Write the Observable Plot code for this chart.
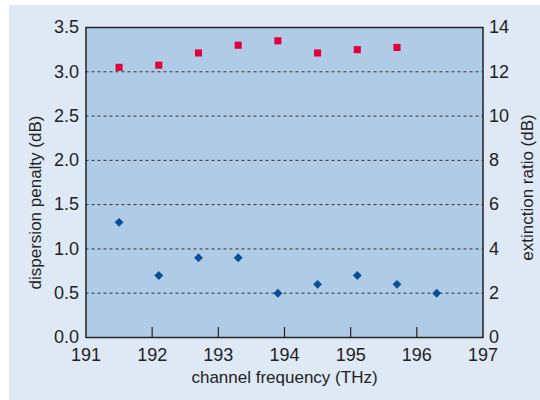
<!DOCTYPE html>
<html>
<head>
<meta charset="utf-8">
<script src="https://cdn.jsdelivr.net/npm/d3@7"></script>
<script src="https://cdn.jsdelivr.net/npm/@observablehq/plot@0.6"></script>
<style>
  html, body { margin: 0; padding: 0; background: #ffffff; }
  #wrap { position: relative; width: 540px; height: 400px; overflow: hidden; }
  #bg { position: absolute; left: 9px; top: 5px; right: 0; bottom: 0; background: #dfe9f5; }
  #chart { position: absolute; left: 0; top: 0; }
</style>
</head>
<body>
<div id="wrap"><div id="bg"></div><div id="chart"></div></div>
<script>
// Extinction ratio (right axis, dB) – red squares
const freqExtinction = [191.5, 192.1, 192.7, 193.3, 193.9, 194.5, 195.1, 195.7];
const extinctionRatio = [12.2, 12.3, 12.85, 13.2, 13.4, 12.85, 13.0, 13.1];

// Dispersion penalty (left axis, dB) – blue diamonds
const freqPenalty = [191.5, 192.1, 192.7, 193.3, 193.9, 194.5, 195.1, 195.7, 196.3];
const dispersionPenalty = [1.3, 0.7, 0.9, 0.9, 0.5, 0.6, 0.7, 0.6, 0.5];

// Ticks
const xTicks = [191, 192, 193, 194, 195, 196, 197];
const xInnerTicks = [192, 193, 194, 195, 196];
const leftTicks = [0, 0.5, 1.0, 1.5, 2.0, 2.5, 3.0, 3.5];
const gridTicks = [0.5, 1.0, 1.5, 2.0, 2.5, 3.0];
const rightTicks = [0, 2, 4, 6, 8, 10, 12, 14];
const ratio = 4; // right axis = left axis * 4

const xLabel = "channel frequency (THz)";
const yLeftLabel = "dispersion penalty (dB)";
const yRightLabel = "extinction ratio (dB)";

const extData = freqExtinction.map((f, i) => ({f, v: extinctionRatio[i]}));
const penData = freqPenalty.map((f, i) => ({f, v: dispersionPenalty[i]}));

const font = "'Liberation Sans', Arial, sans-serif";

const chart = Plot.plot({
  width: 540,
  height: 400,
  marginLeft: 85.5,
  marginRight: 57.5,
  marginTop: 27,
  marginBottom: 63,
  style: {background: "transparent", fontFamily: font, fontSize: "18px", color: "#222"},
  x: {domain: [191, 197]},
  y: {domain: [0, 3.5]},
  marks: [
    Plot.frame({fill: "#b0cbe6", stroke: null}),
    Plot.gridY(gridTicks, {stroke: "#333", strokeOpacity: 1, strokeDasharray: "3,3", strokeWidth: 1}),
    Plot.tickX(xInnerTicks, {x: d => d, stroke: "#222", strokeWidth: 1.2, insetTop: 300}),
    Plot.axisX(xTicks, {tickSize: 0, tickPadding: 11, tickFormat: d => String(d), label: null, fontSize: 18}),
    Plot.axisY(leftTicks, {anchor: "left", tickSize: 0, tickPadding: 7, tickFormat: d3.format(".1f"), label: null, fontSize: 18}),
    Plot.axisY(rightTicks.map(t => t / ratio), {anchor: "right", tickSize: 0, tickPadding: 6, tickFormat: d => String(Math.round(d * ratio)), label: null, fontSize: 18}),
    Plot.text([xLabel], {frameAnchor: "bottom", textAnchor: "middle", dy: 45, fontSize: 17, fill: "#222"}),
    Plot.text([yLeftLabel], {frameAnchor: "left", textAnchor: "middle", rotate: -90, dx: -50, dy: 20, fontSize: 17, fill: "#222"}),
    Plot.text([yRightLabel], {frameAnchor: "right", textAnchor: "middle", rotate: -90, dx: 45, dy: 5, fontSize: 17, fill: "#222"}),
    Plot.dot(penData, {x: "f", y: "v", symbol: "diamond2", r: 4, fill: "#0a4f9c", stroke: null}),
    Plot.dot(extData, {x: "f", y: d => d.v / ratio, symbol: "square", r: 4, fill: "#e2003c", stroke: null}),
    Plot.frame({stroke: "#222", strokeWidth: 1.5})
  ]
});
document.getElementById("chart").appendChild(chart);
</script>
</body>
</html>
